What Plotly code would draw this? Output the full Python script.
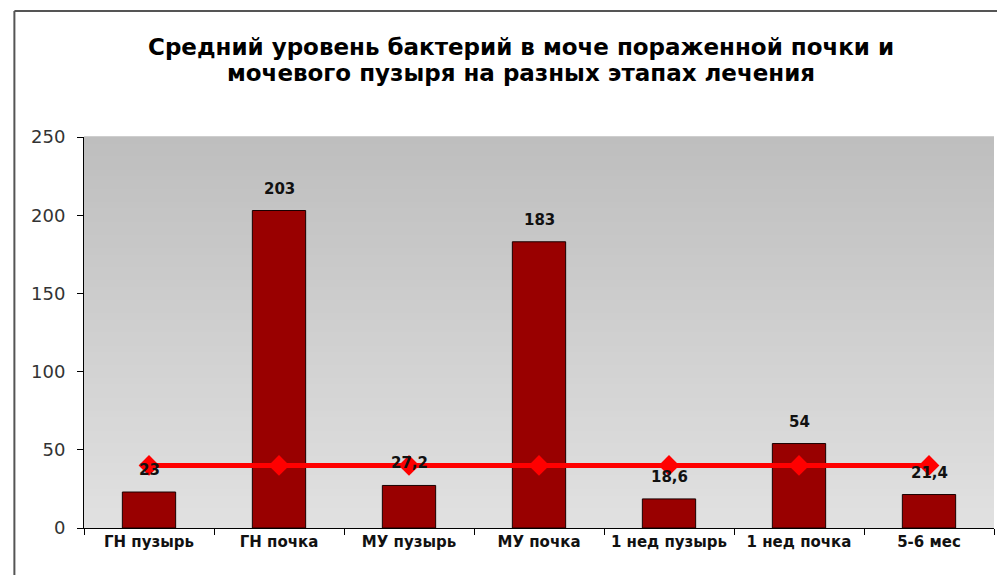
import plotly.graph_objects as go

# Stages of treatment and mean bacteria level
categories = ["ГН пузырь", "ГН почка", "МУ пузырь", "МУ почка",
              "1 нед пузырь", "1 нед почка", "5-6 мес"]
bacteria_level = [23, 203, 27.2, 183, 18.6, 54, 21.4]
reference_level = [40, 40, 40, 40, 40, 40, 40]
y_ticks = [0, 50, 100, 150, 200, 250]

title_lines = ["Средний уровень бактерий в моче пораженной почки и",
               "мочевого пузыря на разных этапах лечения"]

FONT = "DejaVu Sans, Verdana, sans-serif"

fig = go.Figure()

fig.add_trace(go.Bar(
    x=categories, y=bacteria_level,
    marker=dict(color="#990000", line=dict(color="#1a0000", width=1)),
    width=0.41,
    hoverinfo="x+y",
))

fig.add_trace(go.Scatter(
    x=categories, y=reference_level,
    mode="lines+markers",
    line=dict(color="#ff0000", width=5),
    marker=dict(color="#ff0000", size=16, symbol="diamond"),
))

# Value labels above each bar, drawn over the reference line
annotations = []
for cat, val in zip(categories, bacteria_level):
    label = f"{val:g}".replace(".", ",")
    annotations.append(dict(
        x=cat, y=val, xref="x", yref="y",
        text=f"<b>{label}</b>", showarrow=False,
        yanchor="bottom", yshift=11,
        font=dict(family=FONT, size=15, color="#111111"),
    ))

# Two-line chart title, one annotation per line for tight spacing
for i, line in enumerate(title_lines):
    annotations.append(dict(
        x=0.48, y=1.0, xref="paper", yref="paper",
        xanchor="center", yanchor="middle", yshift=90 - 26 * i,
        text=f"<b>{line}</b>", showarrow=False,
        font=dict(family=FONT, size=23, color="#000000"),
    ))

# Vertical grey gradient behind the plot area
shapes = []
n_bands = 60
top_rgb = (190, 190, 190)
bot_rgb = (225, 225, 225)
for i in range(n_bands):
    t = i / (n_bands - 1)
    c = tuple(round(bot_rgb[k] + (top_rgb[k] - bot_rgb[k]) * t) for k in range(3))
    shapes.append(dict(
        type="rect", xref="x domain", yref="y domain",
        x0=0, x1=1, y0=i / n_bands, y1=(i + 1) / n_bands + 0.002,
        fillcolor=f"rgb{c}", line=dict(width=0), layer="below",
    ))

# Outer chart frame: top and left edges
frame = dict(color="#555555", width=2)
shapes.append(dict(type="line", xref="paper", yref="paper",
                   x0=-0.0765, x1=1.0033, y0=1.322, y1=1.322, line=frame))
shapes.append(dict(type="line", xref="paper", yref="paper",
                   x0=-0.0765, x1=-0.0765, y0=-0.12, y1=1.322, line=frame))

fig.update_layout(
    width=997, height=575,
    margin=dict(l=84, r=3, t=137, b=47),
    paper_bgcolor="white",
    plot_bgcolor="#d0d0d0",
    showlegend=False,
    separators=", ",
    annotations=annotations,
    shapes=shapes,
    font=dict(family=FONT, color="#222222"),
)

fig.update_xaxes(
    showline=True, linecolor="#000000", linewidth=1,
    ticks="outside", ticklen=6, tickcolor="#000000",
    tickson="boundaries",
    tickfont=dict(family=FONT, size=15, color="#111111"),
    tickprefix="<b>", ticksuffix="</b>",
    showgrid=False, mirror=False,
)

fig.update_yaxes(
    range=[0, 250], tickvals=y_ticks,
    showline=True, linecolor="#000000", linewidth=1,
    ticks="outside", ticklen=6, tickcolor="#000000",
    ticklabelstandoff=8,
    tickfont=dict(family=FONT, size=18, color="#333333"),
    showgrid=False, zeroline=False,
)

fig.write_html("out.html")
